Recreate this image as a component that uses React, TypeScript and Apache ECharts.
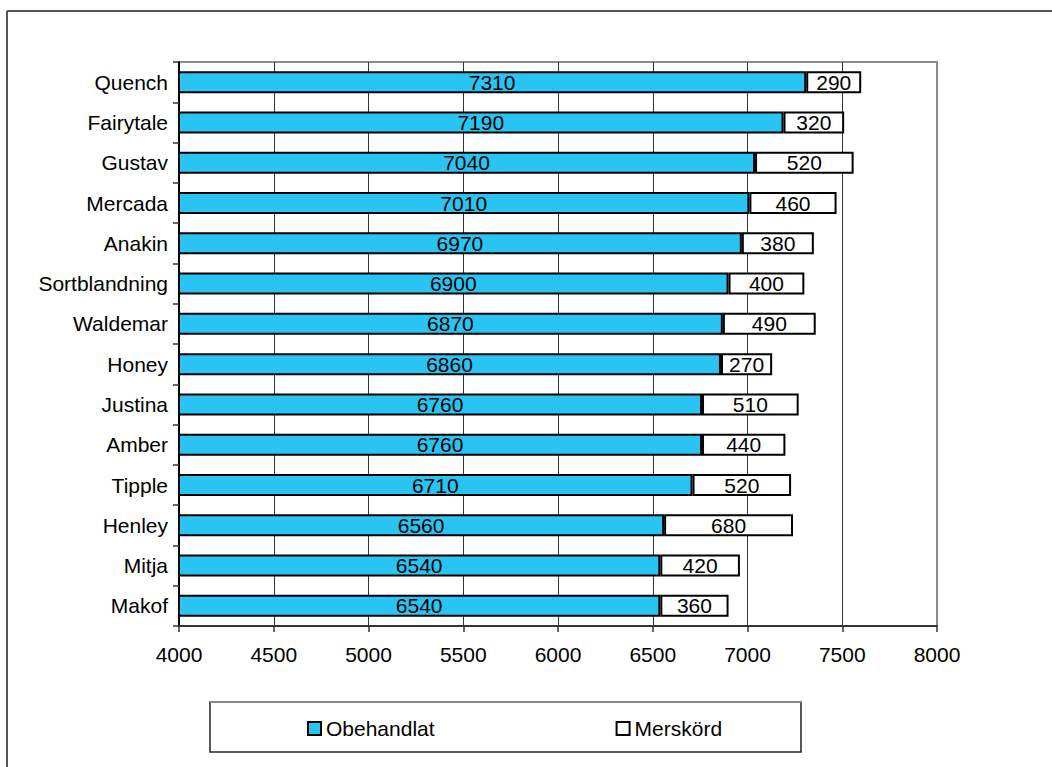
import React, { useEffect, useRef } from "react";
import * as echarts from "echarts";

const categories = [
  "Quench", "Fairytale", "Gustav", "Mercada", "Anakin", "Sortblandning", "Waldemar",
  "Honey", "Justina", "Amber", "Tipple", "Henley", "Mitja", "Makof",
];
const obehandlat = [7310, 7190, 7040, 7010, 6970, 6900, 6870, 6860, 6760, 6760, 6710, 6560, 6540, 6540];
const merskord = [290, 320, 520, 460, 380, 400, 490, 270, 510, 440, 520, 680, 420, 360];
const seriesNames = ["Obehandlat", "Merskörd"];
const xMin = 4000;
const xMax = 8000;
const xStep = 500;

const FONT = "'Liberation Sans', Arial, sans-serif";

export default function App() {
  const ref = useRef<HTMLDivElement>(null);
  useEffect(() => {
    if (!ref.current) return;
    const chart = echarts.init(ref.current, null, { renderer: "svg" });
    chart.setOption({
      animation: false,
      backgroundColor: "#ffffff",
      textStyle: { fontFamily: FONT },
      grid: {
        left: 179, top: 62, width: 758, height: 564,
        show: true, borderColor: "#8c8c8c", borderWidth: 2, backgroundColor: "transparent",
      },
      xAxis: {
        type: "value", min: xMin, max: xMax, interval: xStep,
        axisLine: { show: true, lineStyle: { color: "#333", width: 2 } },
        axisTick: { show: true, length: 6, lineStyle: { color: "#333", width: 1.5 } },
        axisLabel: {
          color: "#000", fontSize: 21, fontFamily: FONT, margin: 18,
          formatter: (v: number) => String(v),
        },
        splitLine: { show: true, showMinLine: false, showMaxLine: false, lineStyle: { color: "#333", width: 1 } },
      },
      yAxis: {
        type: "category", data: categories, inverse: true,
        axisLine: { show: true, lineStyle: { color: "#000", width: 2 } },
        axisTick: { show: true, length: 6, lineStyle: { color: "#333", width: 1.5 } },
        axisLabel: { color: "#000", fontSize: 21, fontFamily: FONT, margin: 11 },
        splitLine: { show: false },
      },
      legend: {
        left: 302, top: 713, itemGap: 181, itemWidth: 13, itemHeight: 13, icon: "rect",
        textStyle: { color: "#000", fontSize: 21, fontFamily: FONT },
        data: seriesNames,
      },
      series: [
        {
          name: seriesNames[0], type: "bar", stack: "total", data: obehandlat, barWidth: 22,
          itemStyle: { color: "#2ac4f3", borderColor: "#000", borderWidth: 2 },
          label: { show: true, position: "inside", color: "#000", fontSize: 21, fontFamily: FONT },
        },
        {
          name: seriesNames[1], type: "bar", stack: "total", data: merskord, barWidth: 22,
          itemStyle: { color: "#ffffff", borderColor: "#000", borderWidth: 2 },
          label: { show: true, position: "inside", color: "#000", fontSize: 21, fontFamily: FONT },
        },
      ],
      graphic: [
        { type: "line", shape: { x1: 7, y1: 11, x2: 1060, y2: 11 }, style: { stroke: "#555", lineWidth: 2 } },
        { type: "line", shape: { x1: 7, y1: 11, x2: 7, y2: 780 }, style: { stroke: "#555", lineWidth: 2 } },
        { type: "rect", shape: { x: 210, y: 702, width: 591, height: 50 }, style: { fill: "none", stroke: "#222", lineWidth: 1.5 } },
        { type: "line", shape: { x1: 210, y1: 702, x2: 801, y2: 702 }, style: { stroke: "#888", lineWidth: 2 } },
      ],
    });
    return () => chart.dispose();
  }, []);
  return (
    <div
      ref={ref}
      style={{ position: "absolute", left: 0, top: 0, width: 1052, height: 767 }}
    />
  );
}
